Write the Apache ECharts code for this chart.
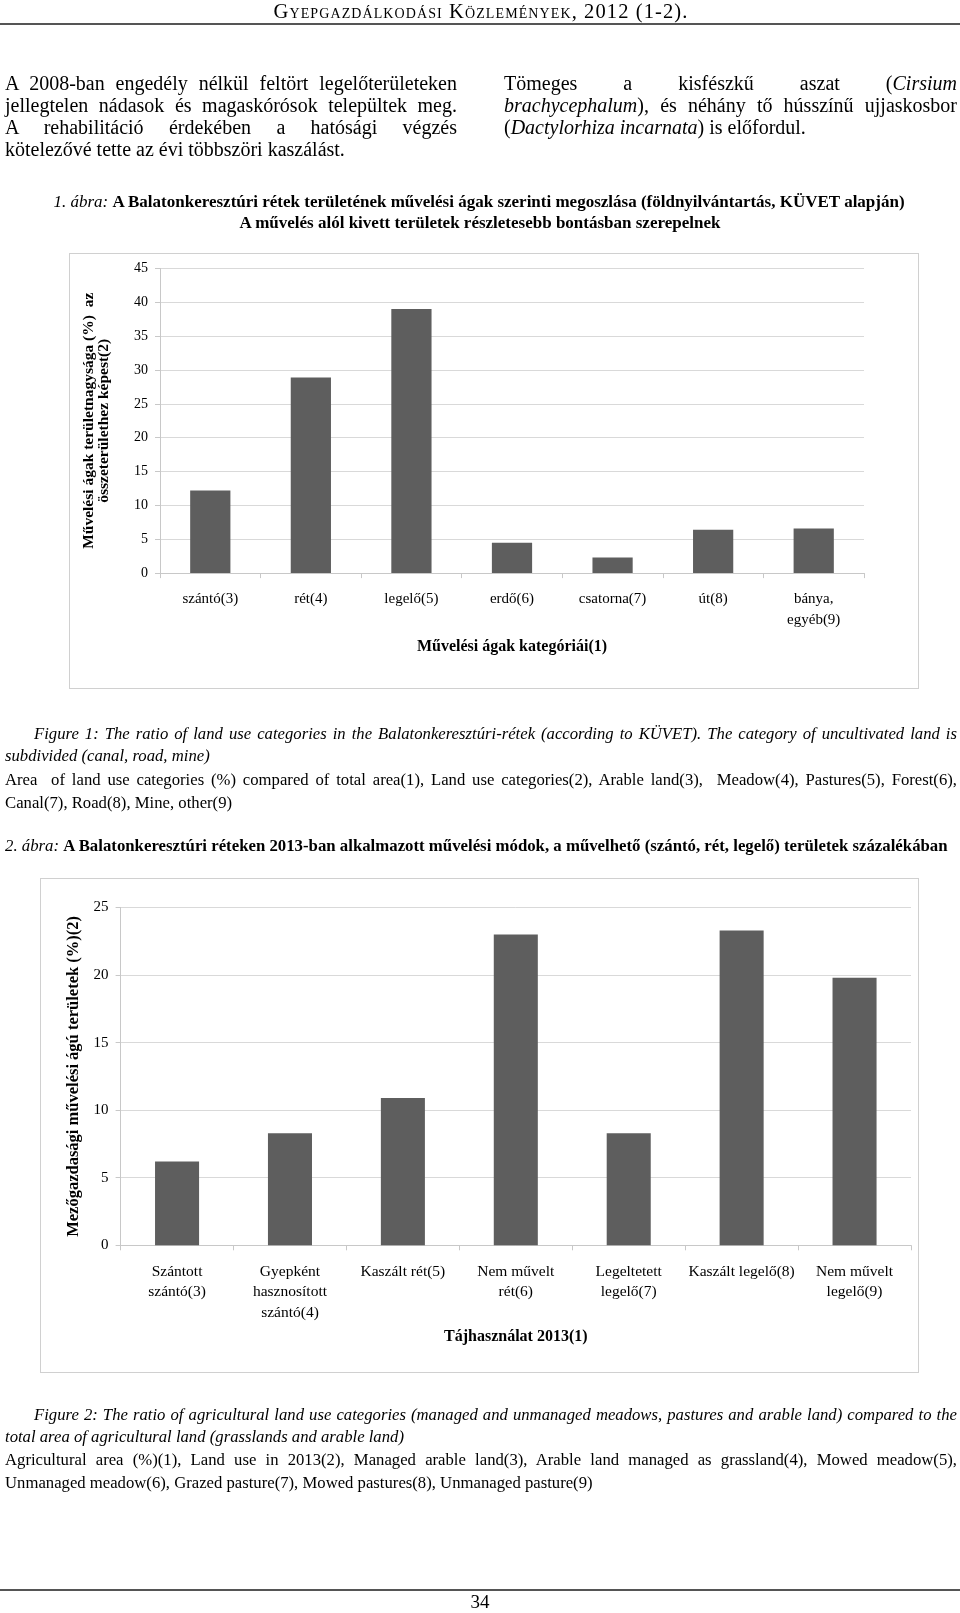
<!DOCTYPE html>
<html>
<head>
<meta charset="utf-8">
<script src="https://cdn.jsdelivr.net/npm/echarts@6/dist/echarts.min.js"></script>
<style>
html,body{margin:0;padding:0;background:#fff;}
body{width:960px;height:1613px;position:relative;overflow:hidden;font-family:'Liberation Serif','Times New Roman',serif;color:#000;}
.t{position:absolute;white-space:nowrap;z-index:3;}
.j{text-align:justify;text-align-last:justify;}
.box{position:absolute;border:1.5px solid #d0d0d0;box-sizing:border-box;z-index:0;}
.hr{position:absolute;left:0;width:960px;background:#555;z-index:3;}
#chart{position:absolute;left:0;top:0;width:960px;height:1613px;z-index:1;}
.b{font-size:20px;line-height:22px;}
.c{font-size:16.7px;line-height:22px;}
</style>
</head>
<body>
<div class="hr" style="top:23px;height:2px;"></div>
<div class="hr" style="top:1589px;height:2px;"></div>
<div class="t" style="left:0;width:962px;text-align:center;top:0px;line-height:22px;font-size:20.5px;letter-spacing:1.1px;font-variant:small-caps;">Gyepgazdálkodási Közlemények, 2012 (1-2).</div>

<div class="t j b" style="left:5px;width:452px;top:72px;">A 2008-ban engedély nélkül feltört legelőterületeken</div>
<div class="t j b" style="left:5px;width:452px;top:94px;">jellegtelen nádasok és magaskórósok települtek meg.</div>
<div class="t j b" style="left:5px;width:452px;top:116px;">A rehabilitáció érdekében a hatósági végzés</div>
<div class="t b" style="left:5px;top:138px;">kötelezővé tette az évi többszöri kaszálást.</div>

<div class="t j b" style="left:504px;width:453px;top:72px;">Tömeges a kisfészkű aszat (<i>Cirsium</i></div>
<div class="t j b" style="left:504px;width:453px;top:94px;"><i>brachycephalum</i>), és néhány tő hússzínű ujjaskosbor</div>
<div class="t b" style="left:504px;top:116px;">(<i>Dactylorhiza incarnata</i>) is előfordul.</div>

<div class="t" style="left:0;width:958px;text-align:center;top:191px;line-height:22px;font-size:17px;"><i>1. ábra:</i> <b>A Balatonkeresztúri rétek területének művelési ágak szerinti megoszlása (földnyilvántartás, KÜVET alapján)</b></div>
<div class="t" style="left:0;width:960px;text-align:center;top:212px;line-height:22px;font-size:17px;font-weight:bold;">A művelés alól kivett területek részletesebb bontásban szerepelnek</div>

<div class="box" style="left:69px;top:253px;width:850px;height:436px;"></div>
<div class="box" style="left:40px;top:878px;width:879px;height:495px;"></div>

<div class="t j c" style="left:34px;width:923px;top:723px;font-style:italic;">Figure 1: The ratio of land use categories in the Balatonkeresztúri-rétek (according to KÜVET). The category of uncultivated land is</div>
<div class="t c" style="left:5px;top:745px;font-style:italic;">subdivided (canal, road, mine)</div>
<div class="t j c" style="left:5px;width:952px;top:769px;">Area&nbsp; of land use categories (%) compared of total area(1), Land use categories(2), Arable land(3),&nbsp; Meadow(4), Pastures(5), Forest(6),</div>
<div class="t c" style="left:5px;top:792px;">Canal(7), Road(8), Mine, other(9)</div>

<div class="t" style="left:5px;width:950px;top:835px;line-height:22px;font-size:16.8px;"><i>2. ábra:</i> <b>A Balatonkeresztúri réteken 2013-ban alkalmazott művelési módok, a művelhető (szántó, rét, legelő) területek százalékában</b></div>

<div class="t j c" style="left:34px;width:923px;top:1404px;font-style:italic;">Figure 2: The ratio of agricultural land use categories (managed and unmanaged meadows, pastures and arable land) compared to the</div>
<div class="t c" style="left:5px;top:1426px;font-style:italic;">total area of agricultural land (grasslands and arable land)</div>
<div class="t j c" style="left:5px;width:952px;top:1449px;">Agricultural area (%)(1), Land use in 2013(2), Managed arable land(3), Arable land managed as grassland(4), Mowed meadow(5),</div>
<div class="t c" style="left:5px;top:1472px;">Unmanaged meadow(6), Grazed pasture(7), Mowed pastures(8), Unmanaged pasture(9)</div>

<div class="t" style="left:0;width:960px;text-align:center;top:1591px;line-height:22px;font-size:19px;">34</div>

<div id="chart"></div>
<script>
// Chart 1: land use categories (%)
var cats1 = ['szántó(3)', 'rét(4)', 'legelő(5)', 'erdő(6)', 'csatorna(7)', 'út(8)', 'bánya,\negyéb(9)'];
var vals1 = [12.2, 28.9, 39.0, 4.5, 2.3, 6.4, 6.6];
var ticks1 = [0, 5, 10, 15, 20, 25, 30, 35, 40, 45];
var yName1 = 'Művelési ágak területnagysága (%)  az\nösszeterülethez képest(2)';
var xName1 = 'Művelési ágak kategóriái(1)';

// Chart 2: agricultural land use 2013 (%)
var cats2 = ['Szántott\nszántó(3)', 'Gyepként\nhasznosított\nszántó(4)', 'Kaszált rét(5)', 'Nem művelt\nrét(6)', 'Legeltetett\nlegelő(7)', 'Kaszált legelő(8)', 'Nem művelt\nlegelő(9)'];
var vals2 = [6.2, 8.3, 10.9, 23.0, 8.3, 23.3, 19.8];
var ticks2 = [0, 5, 10, 15, 20, 25];
var yName2 = 'Mezőgazdasági művelési ágú területek (%)(2)';
var xName2 = 'Tájhasználat 2013(1)';

var FONT = "'Liberation Serif','Times New Roman',serif";
var LINE = '#c8c8c8';
var GRID = '#d9d9d9';
var BAR = '#5e5e5e';

function xAxis(idx, cats, name, gap, fs) {
  return {
    type: 'category', gridIndex: idx, data: cats,
    axisLine: {show: true, lineStyle: {color: LINE, width: 1}},
    axisTick: {show: true, length: 5, lineStyle: {color: LINE}},
    axisLabel: {interval: 0, margin: 16, color: '#000', fontFamily: FONT, fontSize: fs, lineHeight: 20.5},
    name: name, nameLocation: 'middle', nameGap: gap,
    nameTextStyle: {color: '#000', fontFamily: FONT, fontSize: 16, fontWeight: 'bold'}
  };
}
function yAxis(idx, ticks, name, gap, fs, nfs, lh) {
  return {
    type: 'value', gridIndex: idx, min: ticks[0], max: ticks[ticks.length - 1], interval: ticks[1] - ticks[0],
    axisLine: {show: true, lineStyle: {color: LINE, width: 1}},
    axisTick: {show: true, length: 5, lineStyle: {color: LINE}},
    splitLine: {show: true, lineStyle: {color: GRID, width: 1}},
    axisLabel: {margin: 12, color: '#000', fontFamily: FONT, fontSize: fs},
    name: name, nameLocation: 'middle', nameGap: gap, nameRotate: 90,
    nameTextStyle: {color: '#000', fontFamily: FONT, fontSize: nfs, fontWeight: 'bold', lineHeight: lh, align: 'center'}
  };
}

var chart = echarts.init(document.getElementById('chart'), null, {renderer: 'canvas'});
chart.setOption({
  animation: false,
  backgroundColor: 'transparent',
  grid: [
    {left: 160, top: 268.5, width: 704, height: 304.6, containLabel: false},
    {left: 120.6, top: 907.5, width: 790.4, height: 337.8, containLabel: false}
  ],
  xAxis: [xAxis(0, cats1, xName1, 66, 15), xAxis(1, cats2, xName2, 84, 15.5)],
  yAxis: [yAxis(0, ticks1, yName1, 49, 14, 15.5, 15), yAxis(1, ticks2, yName2, 38, 15, 16.5, 17)],
  series: [
    {type: 'bar', xAxisIndex: 0, yAxisIndex: 0, data: vals1, barWidth: '40%', itemStyle: {color: BAR}},
    {type: 'bar', xAxisIndex: 1, yAxisIndex: 1, data: vals2, barWidth: '39%', itemStyle: {color: BAR}}
  ]
});
</script>
</body>
</html>
